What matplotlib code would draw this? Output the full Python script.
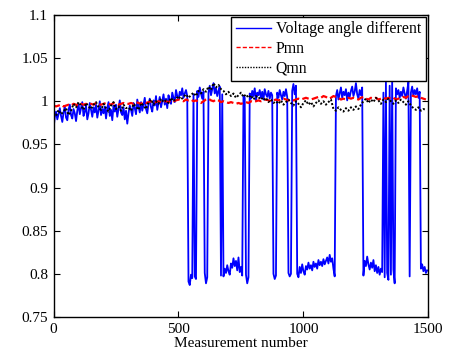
import numpy as np
import matplotlib
matplotlib.use("Agg")
import matplotlib.pyplot as plt

plt.rcParams['font.family'] = ['Liberation Serif', 'DejaVu Serif']
plt.rcParams['mathtext.fontset'] = 'stix'

# Voltage angle difference, one reading every 5 measurements
voltage_angle = [
    0.968, 0.982, 0.988, 0.979, 0.985, 0.992, 0.983, 0.976, 0.987, 0.994,
    0.981, 0.978, 0.990, 0.996, 0.984, 0.980, 0.991, 0.986, 0.977, 0.989,
    0.997, 0.985, 0.992, 0.999, 0.983, 0.988, 0.995, 0.979, 0.986, 0.998,
    0.990, 0.982, 0.993, 0.987, 0.996, 0.981, 0.989, 1.000, 0.984, 0.991,
    0.986, 0.994, 0.980, 0.992, 0.999, 0.983, 0.990, 0.978, 0.995, 0.988,
    0.996, 0.982, 0.991, 1.001, 0.987, 0.984, 0.993, 0.979, 0.989, 0.974,
    0.986, 0.995, 0.990, 0.983, 0.998, 0.992, 0.985, 1.002, 0.994, 0.987,
    0.999, 0.989, 0.996, 1.004, 0.991, 0.986, 0.997, 1.003, 0.993, 0.988,
    1.001, 0.995, 1.006, 0.990, 0.998, 1.005, 0.993, 1.000, 1.008, 0.996,
    1.003, 0.992, 1.007, 1.001, 0.997, 1.010, 1.004, 0.999, 1.013, 1.006,
    1.002, 1.011, 1.007, 1.015, 1.004, 1.009, 1.013, 1.006,
    0.791, 0.787, 0.799, 0.795, 1.008, 0.797, 0.794,
    1.012, 1.005, 1.016, 1.009, 1.003, 1.011,
    0.801, 0.789, 0.796,
    1.010, 1.018, 1.007, 1.014, 1.021, 1.009, 1.015, 1.006, 1.012, 1.017,
    0.798, 1.008,
    0.797, 0.806, 0.801, 0.810, 0.803, 0.799, 0.812, 0.807, 0.818, 0.809,
    0.815, 0.804, 0.819, 0.802, 0.808, 0.798,
    1.006, 1.004,
    0.799, 0.789, 0.796,
    1.009, 1.003, 1.012, 1.006, 1.015, 1.001, 1.010, 1.007, 1.013, 1.004,
    1.011, 1.002, 1.014, 1.008, 1.005, 1.012, 1.003, 1.010, 1.007,
    0.800, 0.794, 0.798,
    1.010, 1.004, 1.013, 1.007, 1.002, 1.011, 1.006, 1.014, 1.005,
    0.801, 0.797, 0.800,
    1.012, 1.020, 1.008, 1.018,
    0.800, 0.796, 0.808, 0.801, 0.811, 0.803, 0.799, 0.809, 0.805, 0.813,
    0.806, 0.810, 0.804, 0.814, 0.808, 0.812, 0.806, 0.816, 0.810, 0.814,
    0.809, 0.817, 0.811, 0.815, 0.819, 0.812, 0.822, 0.814, 0.818, 0.806,
    0.797,
    1.006, 1.013, 1.002, 1.009, 1.016, 1.004, 1.011, 1.007, 1.014, 1.001,
    1.010, 1.005, 1.012, 1.017, 1.006, 1.011, 1.021, 1.008, 1.003, 1.013,
    1.007, 1.016,
    0.798, 0.815, 0.809, 0.820, 0.811, 0.805, 0.813, 0.807, 0.816, 0.803,
    0.810, 0.801, 0.808, 0.799, 0.806, 0.802,
    1.010, 0.796, 1.022, 0.801, 0.793, 1.018, 0.799, 1.025, 0.805, 0.789,
    1.015,
    1.008, 1.013, 1.004, 1.011, 1.006, 1.016, 1.009, 1.003, 1.012, 1.022,
    0.797,
    1.010, 1.017, 1.006, 1.013, 1.008, 1.015, 1.004, 1.011,
    0.806, 0.811, 0.803, 0.808, 0.801, 0.804,
]

# Active power ratio Pmn, one reading every 10 measurements
pmn = [
    0.995, 0.994, 0.995, 0.996, 0.994, 0.995, 0.996, 0.995, 0.997, 0.996,
    0.995, 0.997, 0.996, 0.997, 0.996,
    0.997, 0.996, 0.998, 0.997, 0.996, 0.997, 0.998, 0.997, 0.996, 0.998,
    0.997, 0.996, 0.997, 0.998, 0.997,
    0.997, 0.998, 0.997, 0.999, 0.998, 0.997, 0.999, 0.998, 0.999, 1.000,
    0.998, 0.999, 1.000, 0.999, 1.000,
    1.000, 0.999, 1.001, 1.000, 1.001, 1.002, 1.001, 1.000, 1.002, 1.001,
    1.002, 1.000, 1.001, 0.999, 0.998,
    1.000, 1.002, 1.003, 1.001, 1.000, 1.002, 1.001, 0.999, 1.000, 0.999,
    0.998, 0.999, 0.998, 0.997, 0.998,
    0.997, 0.998, 0.999, 0.998, 1.000, 0.999, 1.000, 1.001, 1.000, 1.001,
    1.002, 1.001, 1.000, 1.001, 1.002,
    1.001, 1.002, 1.003, 1.002, 1.001, 1.002, 1.001, 1.002, 1.003, 1.002,
    1.003, 1.004, 1.003, 1.002, 1.003,
    1.004, 1.005, 1.004, 1.006, 1.005, 1.003, 1.004, 1.006, 1.005, 1.004,
    1.002, 1.003, 1.002, 1.004, 1.003,
    1.004, 1.003, 1.002, 1.004, 1.005, 1.003, 1.002, 1.004, 1.003, 1.004,
    1.002, 1.003, 1.004, 1.003, 1.004,
    1.003, 1.004, 1.002, 1.003, 1.004, 1.005, 1.004, 1.006, 1.007, 1.006,
    1.005, 1.006, 1.004, 1.003, 1.002,
]

# Reactive power ratio Qmn, one reading every 10 measurements
qmn = [
    0.986, 0.983, 0.990, 0.985, 0.988, 0.992, 0.984, 0.989, 0.997, 0.993,
    0.999, 0.995, 0.990, 0.998, 0.994,
    0.991, 0.996, 0.999, 0.993, 0.990, 0.997, 0.992, 0.988, 0.995, 0.999,
    0.991, 0.994, 0.989, 0.996, 0.992,
    0.993, 0.989, 0.997, 0.994, 0.990, 0.998, 0.995, 0.991, 0.999, 1.002,
    0.996, 1.000, 0.997, 1.003, 0.999,
    1.001, 0.998, 1.004, 1.000, 1.003, 1.006, 1.002, 1.005, 1.008, 1.004,
    1.007, 1.010, 1.006, 1.012, 1.009,
    1.014, 1.011, 1.017, 1.013, 1.021, 1.016, 1.019, 1.014, 1.012, 1.008,
    1.011, 1.006, 1.009, 1.004, 1.007,
    1.010, 1.005, 1.008, 1.004, 1.007, 1.002, 1.006, 1.003, 1.005, 1.001,
    1.004, 0.999, 1.002, 0.998, 1.000,
    0.997, 1.001, 0.996, 0.999, 1.002, 0.998, 0.995, 1.000, 0.997, 0.993,
    0.998, 1.001, 0.996, 0.999, 0.994,
    0.998, 1.001, 0.997, 1.000, 0.996, 0.999, 1.002, 0.991, 0.989, 0.993,
    0.990, 0.988, 0.992, 0.989, 0.993,
    0.990, 0.994, 0.991, 0.996, 1.000, 1.003, 0.998, 1.002, 0.999, 1.004,
    1.001, 0.997, 1.002, 0.999, 1.003,
    1.000, 0.997, 1.001, 0.998, 1.002, 0.999, 0.996, 1.000, 0.995, 0.992,
    0.990, 0.993, 0.989, 0.991, 0.990,
]

x_ticks = [0, 500, 1000, 1500]
y_ticks = [0.75, 0.8, 0.85, 0.9, 0.95, 1.0, 1.05, 1.1]
y_tick_labels = ['0.75', '0.8', '0.85', '0.9', '0.95', '1', '1.05', '1.1']

n_blue = np.arange(len(voltage_angle)) * 5
n_p = np.arange(len(pmn)) * 10
n_q = np.arange(len(qmn)) * 10

fig = plt.figure(figsize=(4.5, 3.56), dpi=100)
ax = fig.add_axes([0.119, 0.1096, 0.833, 0.8484])

ax.plot(n_blue, voltage_angle, color='#0000ff', lw=1.3,
        label='Voltage angle different')
ax.plot(n_p, pmn, color='#ff0000', lw=1.6, ls=(0, (3, 1.5)), label='Pmn')
ax.plot(n_q, qmn, color='black', lw=1.4, ls=(0, (1, 1.0)), label='Qmn')

ax.set_xlim(0, 1500)
ax.set_ylim(0.75, 1.1)
ax.set_xticks(x_ticks)
ax.set_xticklabels([str(t) for t in x_ticks])
ax.set_yticks(y_ticks)
ax.set_yticklabels(y_tick_labels)
ax.tick_params(direction='in', top=True, right=True, length=4, width=0.8,
               labelsize=11, pad=4)
for s in ax.spines.values():
    s.set_linewidth(1.0)
ax.set_xlabel('Measurement number', fontsize=11, labelpad=1)

leg = ax.legend(loc='upper right', bbox_to_anchor=(0.997, 1.0),
                fontsize=11.4, frameon=True, fancybox=False, framealpha=1,
                edgecolor='black', borderpad=0.3, labelspacing=0.22,
                handlelength=2.2, handletextpad=0.3, borderaxespad=0.1)
leg.get_frame().set_linewidth(1.0)
for h in leg.get_lines():
    h.set_linewidth(1.0)

fig.savefig('out.png', dpi=100)
